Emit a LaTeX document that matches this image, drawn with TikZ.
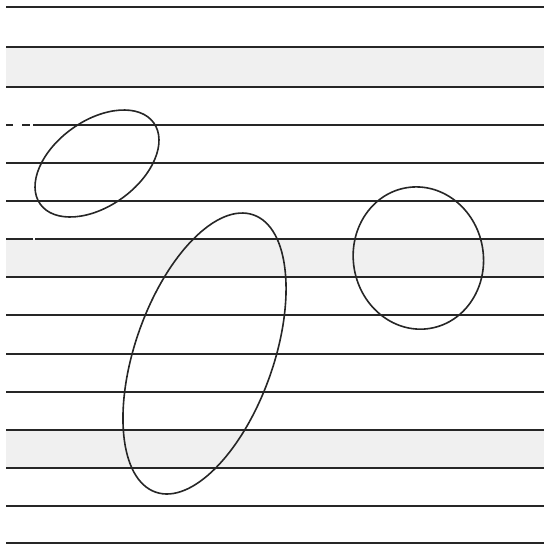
\documentclass[tikz,border=0pt]{standalone}
\begin{document}
\begin{tikzpicture}[x=1pt,y=1pt,
  rule/.style={line width=2pt,draw=black!85},
  band/.style={fill=black!6,draw=none},
  outline/.style={line width=1.6pt,draw=black!85}]
\useasboundingbox (0,0) rectangle (544,545);
% grey bands (image y -> 545-y)
\fill[band] (6,545-87) rectangle (544,545-47);
\fill[band] (6,545-277) rectangle (544,545-239);
\fill[band] (6,545-468) rectangle (544,545-430);
% horizontal rules
\foreach \yy in {7,47,87,163,201,277,315,354,392,430,468,506,543.5}{
  \draw[rule] (6,545-\yy) -- (544,545-\yy);
}
% rules with broken start
\draw[rule] (6,545-125) -- (13,545-125);
\draw[rule] (22,545-125) -- (30,545-125);
\draw[rule] (33,545-125) -- (544,545-125);
\draw[rule] (6,545-239) -- (33,545-239);
\draw[rule] (35,545-239) -- (544,545-239);
% ellipses
\coordinate (c1) at (97,545-163.5);
\coordinate (c2) at (204.5,545-353.5);
\coordinate (c3) at (418.3,545-258);
\draw[outline,rotate around={35.6:(c1)}] (c1) ellipse [x radius=69.8, y radius=42.8];
\draw[outline,rotate around={70.5:(c2)}] (c2) ellipse [x radius=147, y radius=69.1];
\draw[outline,rotate around={-80:(c3)}] (c3) ellipse [x radius=71.3, y radius=65];
\end{tikzpicture}
\end{document}
